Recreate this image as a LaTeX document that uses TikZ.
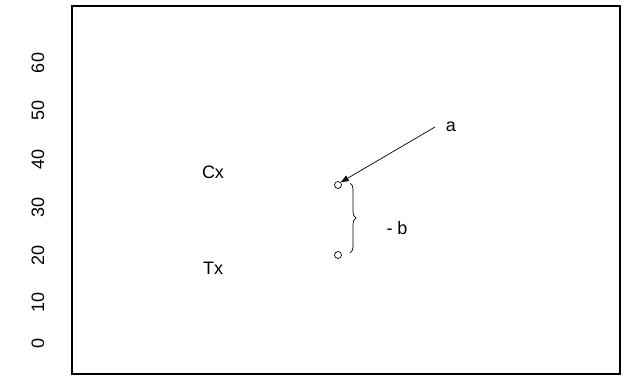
\documentclass[tikz,border=0pt]{standalone}
\usepackage{fontspec}
\setmainfont{Liberation Sans}
\usetikzlibrary{arrows.meta,decorations.pathreplacing}
\begin{document}
\begin{tikzpicture}[x=1pt,y=-1pt,
  lbl/.style={inner sep=0pt,font=\fontsize{18}{21}\selectfont},
  axlbl/.style={lbl,rotate=90},
  pin/.style={circle,draw,line width=0.7pt,minimum size=7pt,inner sep=0pt}]
\useasboundingbox (0,0) rectangle (624,379);
\draw[line width=2.2pt] (72,6) rectangle (620,374);
\node[axlbl] (l60) at (38,63) {60};
\node[axlbl] (l50) at (38,110) {50};
\node[axlbl] (l40) at (38,159) {40};
\node[axlbl] (l30) at (38,207) {30};
\node[axlbl] (l20) at (38,255) {20};
\node[axlbl] (l10) at (38,302) {10};
\node[axlbl] (l0) at (38,343) {0};
\node[lbl] (cx) at (213,172) {Cx};
\node[lbl] (tx) at (213,268) {Tx};
\node[pin] (p1) at (338,185) {};
\node[pin] (p2) at (338,255) {};
\coordinate (bt) at (350,183);
\coordinate (bb) at (350,253);
\draw[line width=0.7pt,decorate,decoration={brace,amplitude=6pt}] (bt) -- (bb);
\node[lbl] (b) at (397,228) {- b};
\node[lbl] (a) at (451,127) {a};
\coordinate (as) at (435,127);
\draw[line width=0.7pt,-{Triangle[length=8pt,width=6pt]}] (as) -- (p1.north east);
\end{tikzpicture}
\end{document}
